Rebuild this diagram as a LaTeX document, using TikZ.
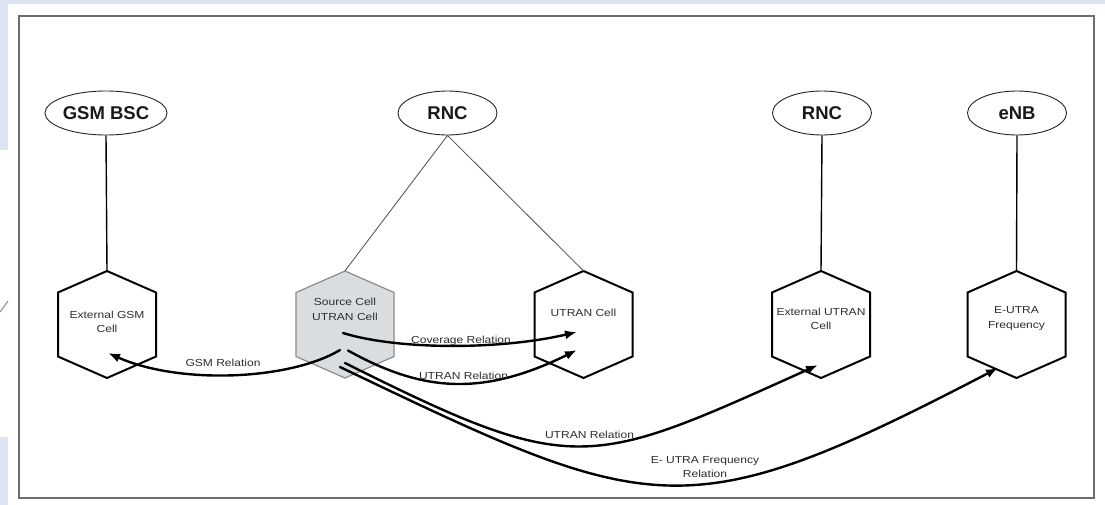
\documentclass[tikz,border=0pt]{standalone}
\usepackage{fontspec}
\setmainfont{Liberation Sans}
\newfontfamily\cellfont[FakeStretch=1.18]{Liberation Sans}
\usetikzlibrary{arrows.meta,calc,shapes.geometric}

\definecolor{pageblue}{HTML}{DCE5F1}
\definecolor{framegray}{HTML}{6E6E6E}
\definecolor{srcfill}{HTML}{DADDE0}
\definecolor{txtgray}{HTML}{2E2E2E}

% pointy-top hexagon around a cell node
\newcommand\cellhexagon[2]{%
  \path[#1] ($(#2.center)+(0,-53.5)$) -- ($(#2.center)+(49,-32)$)
    -- ($(#2.center)+(49,32)$) -- ($(#2.center)+(0,53.5)$)
    -- ($(#2.center)+(-49,32)$) -- ($(#2.center)+(-49,-32)$) -- cycle;}

\begin{document}
\begin{tikzpicture}[x=1pt,y=-1pt,
  ctrl/.style={ellipse, draw=black!85, line width=0.9pt, minimum width=99pt,
    minimum height=44pt, inner sep=0pt,
    font=\fontsize{18.5}{20}\selectfont\bfseries, text=black!90},
  cellarea/.style={minimum width=98pt, minimum height=107pt, inner sep=0pt},
  celltext/.style={align=center, inner sep=0pt,
    font=\cellfont\fontsize{10.2}{14.5}\selectfont, text=txtgray},
  hexline/.style={draw=black, line width=2pt, line join=miter},
  srchex/.style={draw=black!45, fill=srcfill, line width=1.2pt},
  uplink/.style={line width=1.4pt, draw=black},
  rnclink/.style={line width=0.8pt, draw=black!70},
  relarrow/.style={line width=2.4pt, line cap=round, -{Latex[length=12pt,width=9pt]}},
  rellabel/.style={align=center, inner sep=0pt,
    font=\cellfont\fontsize{10.2}{14}\selectfont, text=txtgray},
]
\useasboundingbox (0,0) rectangle (1105,505);

% page and frame
\fill[pageblue] (0,0) rectangle (1105,505);
\fill[white] (8,4) rectangle (1105,505);
\fill[white] (0,150) rectangle (8,437);
\draw[black!45, line width=1pt] (0,312) -- (8,301);
\draw[framegray, line width=2.5pt] (19,16) rectangle (1094,498);

% controllers
\node[ctrl] (bsc)  at (106,113)  {GSM BSC};
\node[ctrl] (rnca) at (447.5,113) {RNC};
\node[ctrl] (rncb) at (822,113)  {RNC};
\node[ctrl] (enb)  at (1017,113) {eNB};

% cells
\node[cellarea] (gsmcell)  at (107,324.5)   {};
\node[cellarea] (srccell)  at (345,324.5)   {};
\node[cellarea] (utrancell) at (583.5,324.5) {};
\node[cellarea] (extcell)  at (821,324.5)   {};
\node[cellarea] (eutracell) at (1016.5,324.5) {};

\cellhexagon{hexline}{gsmcell}
\cellhexagon{srchex}{srccell}
\cellhexagon{hexline}{utrancell}
\cellhexagon{hexline}{extcell}
\cellhexagon{hexline}{eutracell}

\node[celltext] (gsmtxt)   at (107,322)    {External GSM\\Cell};
\node[celltext] (srctxt)   at (345,309.5)  {Source Cell\\UTRAN Cell};
\node[celltext] (utrantxt) at (583.5,313)  {UTRAN Cell};
\node[celltext] (exttxt)   at (821,319)    {External UTRAN\\Cell};
\node[celltext] (eutratxt) at (1016.5,318.5) {E-UTRA\\Frequency};

% controller to cell links
\draw[uplink] (bsc.south) -- (gsmcell.north);
\draw[uplink] (rncb.south) -- (extcell.north);
\draw[uplink] (enb.south) -- (eutracell.north);
\draw[rnclink] (srccell.north) -- (rnca.south) -- (utrancell.north);

% relation end points
\coordinate (gsmfrom) at ($(srccell.center)+(-5,25.5)$);
\coordinate (covfrom) at ($(srccell.center)+(-2,8.5)$);
\coordinate (utfrom)  at ($(srccell.center)+(3,26)$);
\coordinate (utlfrom) at ($(srccell.center)+(0,38.5)$);
\coordinate (eufrom)  at ($(srccell.center)+(-5,42.5)$);
\coordinate (gsmto)   at ($(gsmcell.center)+(1,28.5)$);
\coordinate (covto)   at ($(utrancell.center)+(-6.5,7.5)$);
\coordinate (utto)    at ($(utrancell.center)+(-6.5,25.5)$);
\coordinate (utlto)   at ($(extcell.center)+(-3,40.5)$);
\coordinate (euto)    at ($(eutracell.center)+(-18.5,43.5)$);

% relations
\draw[relarrow] (gsmfrom) .. controls +(-50,30) and +(72,32) .. (gsmto);
\draw[relarrow] (covfrom) .. controls +(55,17) and +(-77,18) .. (covto);
\draw[relarrow] (utfrom)  .. controls +(72,40) and +(-97,48) .. (utto);
\draw[relarrow] (utlfrom) .. controls +(230,115) and +(-230,103.5) .. (utlto);
\draw[relarrow] (eufrom)  .. controls +(313,150) and +(-313,163) .. (euto);

% relation labels
\node[rellabel] (gsmlbl) at (223,363)   {GSM Relation};
\node[rellabel] (covlbl) at (461,340.5) {Coverage Relation};
\node[rellabel] (utlbl)  at (463.5,376) {UTRAN Relation};
\node[rellabel] (utllbl) at (589.5,435) {UTRAN Relation};
\node[rellabel] (eulbl)  at (705,467)   {E- UTRA Frequency\\Relation};
\end{tikzpicture}
\end{document}
